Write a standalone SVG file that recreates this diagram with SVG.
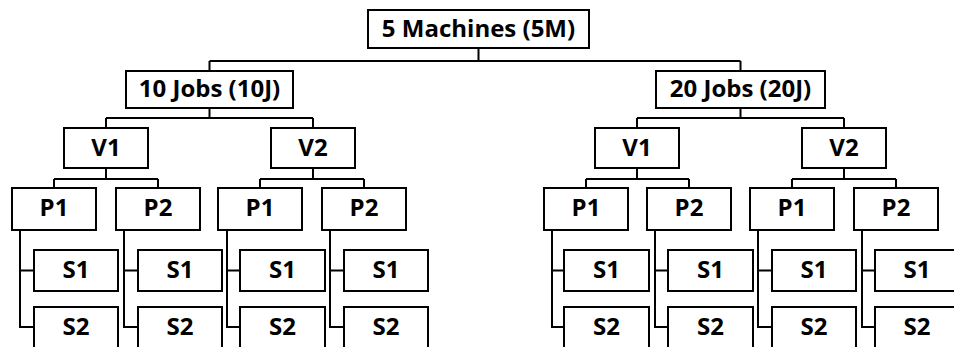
<svg xmlns="http://www.w3.org/2000/svg" width="954" height="347" viewBox="0 0 954 347">
<style>
.b{fill:#fff;stroke:#000;stroke-width:2}
.t{font-family:"Open Sans","Liberation Sans",sans-serif;font-weight:700;font-size:24px;fill:#000;text-anchor:middle}
.c{fill:none;stroke:#000;stroke-width:2}
</style>
<rect width="954" height="347" fill="#fff"/>
<g id="connectors" class="c">
<path d="M478.5 48V61M209.5 61H740.5M209.5 61V71M740.5 61V71"/>
<path d="M209.5 108V118M106 118H313M106 118V128M313 118V128"/>
<path d="M740.5 108V118M637 118H844M637 118V128M844 118V128"/>
<path d="M106 168V179M54 179H158M54 179V188M158 179V188"/>
<path d="M313 168V179M260 179H364M260 179V188M364 179V188"/>
<path d="M637 168V179M586 179H689M586 179V188M689 179V188"/>
<path d="M844 168V179M792 179H896M792 179V188M896 179V188"/>
<path d="M20 230V327H34M20 270.5H34"/>
<path d="M124 230V327H138M124 270.5H138"/>
<path d="M227 230V327H240M227 270.5H240"/>
<path d="M330 230V327H344M330 270.5H344"/>
<path d="M552 230V327H564M552 270.5H564"/>
<path d="M655 230V327H668M655 270.5H668"/>
<path d="M758 230V327H772M758 270.5H772"/>
<path d="M862 230V327H875M862 270.5H875"/>
</g>
<g id="n5M"><rect class="b" x="368" y="10" width="221" height="38"/><text class="t" x="478.5" y="37">5 Machines (5M)</text></g>
<g id="n10J"><rect class="b" x="126" y="71" width="167" height="37"/><text class="t" x="209.5" y="97">10 Jobs (10J)</text></g>
<g id="n20J"><rect class="b" x="656" y="71" width="169" height="37"/><text class="t" x="740.5" y="97">20 Jobs (20J)</text></g>
<g id="v1a"><rect class="b" x="64" y="128" width="84" height="40"/><text class="t" x="106" y="156">V1</text></g>
<g id="v2a"><rect class="b" x="271" y="128" width="84" height="40"/><text class="t" x="313" y="156">V2</text></g>
<g id="v1b"><rect class="b" x="595" y="128" width="84" height="40"/><text class="t" x="637" y="156">V1</text></g>
<g id="v2b"><rect class="b" x="802" y="128" width="84" height="40"/><text class="t" x="844" y="156">V2</text></g>
<g id="p1a"><rect class="b" x="12" y="188" width="84" height="42"/><text class="t" x="54" y="216">P1</text></g>
<g id="p2a"><rect class="b" x="116" y="188" width="84" height="42"/><text class="t" x="158" y="216">P2</text></g>
<g id="p1b"><rect class="b" x="218" y="188" width="84" height="42"/><text class="t" x="260" y="216">P1</text></g>
<g id="p2b"><rect class="b" x="322" y="188" width="84" height="42"/><text class="t" x="364" y="216">P2</text></g>
<g id="p1c"><rect class="b" x="544" y="188" width="84" height="42"/><text class="t" x="586" y="216">P1</text></g>
<g id="p2c"><rect class="b" x="647" y="188" width="84" height="42"/><text class="t" x="689" y="216">P2</text></g>
<g id="p1d"><rect class="b" x="750" y="188" width="84" height="42"/><text class="t" x="792" y="216">P1</text></g>
<g id="p2d"><rect class="b" x="854" y="188" width="84" height="42"/><text class="t" x="896" y="216">P2</text></g>
<g id="s1a"><rect class="b" x="34" y="250" width="84" height="41"/><text class="t" x="76" y="278">S1</text></g>
<g id="s2a"><rect class="b" x="34" y="307" width="84" height="50"/><text class="t" x="76" y="335">S2</text></g>
<g id="s1b"><rect class="b" x="138" y="250" width="84" height="41"/><text class="t" x="180" y="278">S1</text></g>
<g id="s2b"><rect class="b" x="138" y="307" width="84" height="50"/><text class="t" x="180" y="335">S2</text></g>
<g id="s1c"><rect class="b" x="240" y="250" width="85" height="41"/><text class="t" x="282.5" y="278">S1</text></g>
<g id="s2c"><rect class="b" x="240" y="307" width="85" height="50"/><text class="t" x="282.5" y="335">S2</text></g>
<g id="s1d"><rect class="b" x="344" y="250" width="84" height="41"/><text class="t" x="386" y="278">S1</text></g>
<g id="s2d"><rect class="b" x="344" y="307" width="84" height="50"/><text class="t" x="386" y="335">S2</text></g>
<g id="s1e"><rect class="b" x="564" y="250" width="85" height="41"/><text class="t" x="606.5" y="278">S1</text></g>
<g id="s2e"><rect class="b" x="564" y="307" width="85" height="50"/><text class="t" x="606.5" y="335">S2</text></g>
<g id="s1f"><rect class="b" x="668" y="250" width="85" height="41"/><text class="t" x="710.5" y="278">S1</text></g>
<g id="s2f"><rect class="b" x="668" y="307" width="85" height="50"/><text class="t" x="710.5" y="335">S2</text></g>
<g id="s1g"><rect class="b" x="772" y="250" width="84" height="41"/><text class="t" x="814" y="278">S1</text></g>
<g id="s2g"><rect class="b" x="772" y="307" width="84" height="50"/><text class="t" x="814" y="335">S2</text></g>
<g id="s1h"><rect class="b" x="875" y="250" width="84" height="41"/><text class="t" x="917" y="278">S1</text></g>
<g id="s2h"><rect class="b" x="875" y="307" width="84" height="50"/><text class="t" x="917" y="335">S2</text></g>
</svg>
